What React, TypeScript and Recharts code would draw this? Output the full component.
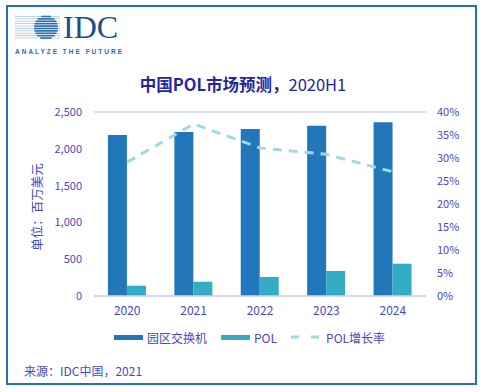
import React from "react";
import {
  Bar,
  CartesianGrid,
  ComposedChart,
  Line,
  XAxis,
  YAxis,
} from "recharts";

const years = ["2020", "2021", "2022", "2023", "2024"];
const campusSwitch = [2188, 2228, 2269, 2314, 2360];
const pol = [140, 194, 258, 340, 439];
const polGrowth = [29.1, 37.4, 32.2, 30.8, 27.0];

const leftTicks = [0, 500, 1000, 1500, 2000, 2500];
const rightTicks = [0, 5, 10, 15, 20, 25, 30, 35, 40];

const DARK = "#2277bb";
const LIGHT = "#35acc6";
const LINE = "#9fd9e6";
const TEXT = "#4848c4";
const GRID = "#d3d3ff";
const FONT = "'Noto Sans CJK SC', 'Noto Sans', sans-serif";

const data = years.map((y, i) => ({
  year: y,
  switch: campusSwitch[i],
  pol: pol[i],
  growth: polGrowth[i],
}));

const fmtThousands = (v: number) => v.toLocaleString("en-US");

function LegendRow() {
  const item = { display: "flex", alignItems: "center", marginRight: 14 };
  const label = { color: TEXT, fontSize: 12, fontFamily: FONT };
  return (
    <div style={{ display: "flex", alignItems: "center", height: 16 }}>
      <div style={item}>
        <span style={{ width: 29, height: 5, background: DARK, marginRight: 4 }} />
        <span style={label}>园区交换机</span>
      </div>
      <div style={item}>
        <span style={{ width: 29, height: 5, background: LIGHT, marginRight: 4 }} />
        <span style={label}>POL</span>
      </div>
      <div style={item}>
        <svg width={32} height={6} style={{ marginRight: 3 }}>
          <line x1={0} y1={3} x2={32} y2={3} stroke={LINE} strokeWidth={3} strokeDasharray="8 12" />
        </svg>
        <span style={label}>POL增长率</span>
      </div>
    </div>
  );
}

function Logo() {
  const stripes = [];
  for (let i = 0; i < 10; i++) {
    const y = 16 + i * 2.4;
    const dy = y - 27;
    const half = Math.sqrt(Math.max(0, 12 * 12 - dy * dy));
    stripes.push(
      <g key={i}>
        <rect x={15} y={y} width={45} height={0.8} fill="#a9c6e3" />
        {half > 0 && (
          <rect x={46 - half} y={y - 0.3} width={half * 2} height={1.6} fill="#2a6cae" />
        )}
      </g>
    );
  }
  return (
    <svg width={130} height={60} style={{ position: "absolute", left: 0, top: 0 }}>
      {stripes}
      <text x={63} y={38} fontFamily="'Liberation Serif', 'DejaVu Serif', serif" fontSize={32} fill="#1b4f8c">
        IDC
      </text>
      <text
        x={15}
        y={54}
        fontFamily="'Liberation Sans', sans-serif"
        fontSize={6.5}
        fontWeight="bold"
        fill="#2f6aab"
        textLength={107}
        lengthAdjust="spacing"
      >
        ANALYZE THE FUTURE
      </text>
    </svg>
  );
}

export default function App() {
  return (
    <div style={{ position: "relative", width: 486, height: 392, background: "#fff", fontFamily: FONT }}>
      <style>{`body{margin:0}`}</style>
      <div
        style={{
          position: "absolute",
          left: 6,
          top: 5,
          width: 467,
          height: 376,
          border: "2px solid #1f70bd",
        }}
      />
      <Logo />
      <div
        style={{
          position: "absolute",
          left: 0,
          width: 486,
          top: 73,
          textAlign: "center",
          fontSize: 16.5,
          color: "#2525a3",
          lineHeight: "22px",
        }}
      >
        <span style={{ fontWeight: "bold" }}>中国POL市场预测，</span>
        <span>2020H1</span>
      </div>
      <div
        style={{
          position: "absolute",
          left: 36,
          top: 207,
          transform: "translate(-50%, -50%) rotate(-90deg)",
          fontSize: 12.5,
          color: TEXT,
          whiteSpace: "nowrap",
        }}
      >
        单位：百万美元
      </div>
      <div style={{ position: "absolute", left: 0, top: 0 }}>
        <ComposedChart
          width={486}
          height={392}
          data={data}
          margin={{ top: 112, right: 10, bottom: 76, left: 44 }}
          barGap={0}
          barCategoryGap="21%"
        >
          <CartesianGrid vertical={false} stroke={GRID} strokeWidth={1.5} />
          <XAxis
            dataKey="year"
            height={20}
            axisLine={{ stroke: GRID, strokeWidth: 1.5 }}
            tickLine={false}
            tickSize={0}
            tickMargin={10}
            tick={{ fill: TEXT, fontSize: 12, fontFamily: FONT }}
          />
          <YAxis
            yAxisId="left"
            width={50}
            domain={[0, 2500]}
            ticks={leftTicks}
            tickFormatter={fmtThousands}
            axisLine={false}
            tickLine={false}
            tickSize={0}
            tickMargin={12}
            tick={{ fill: TEXT, fontSize: 11, fontFamily: FONT }}
          />
          <YAxis
            yAxisId="right"
            orientation="right"
            width={50}
            domain={[0, 40]}
            ticks={rightTicks}
            tickFormatter={(v: number) => `${v}%`}
            axisLine={false}
            tickLine={false}
            tickSize={0}
            tickMargin={11}
            tick={{ fill: TEXT, fontSize: 11, fontFamily: FONT, textAnchor: "start" }}
          />
          <Bar yAxisId="left" dataKey="switch" name="园区交换机" fill={DARK} isAnimationActive={false} />
          <Bar yAxisId="left" dataKey="pol" name="POL" fill={LIGHT} isAnimationActive={false} />
          <Line
            yAxisId="right"
            dataKey="growth"
            name="POL增长率"
            type="linear"
            stroke={LINE}
            strokeWidth={3}
            strokeDasharray="9 7"
            dot={false}
            activeDot={false}
            isAnimationActive={false}
          />
        </ComposedChart>
      </div>
      <div style={{ position: "absolute", left: 114, top: 329 }}>
        <LegendRow />
      </div>
      <div
        style={{
          position: "absolute",
          left: 24,
          top: 362,
          fontSize: 12,
          color: TEXT,
          whiteSpace: "nowrap",
        }}
      >
        来源：IDC中国，2021
      </div>
    </div>
  );
}
